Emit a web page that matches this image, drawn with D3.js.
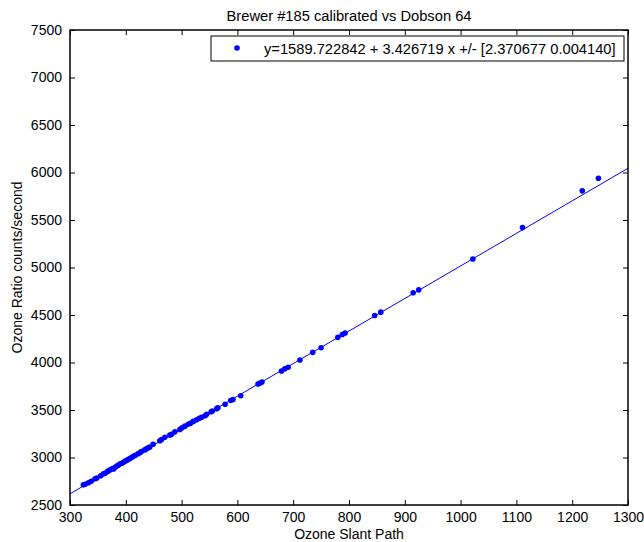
<!DOCTYPE html>
<html>
<head>
<meta charset="utf-8">
<script src="https://cdn.jsdelivr.net/npm/d3@7"></script>
<style>
  html, body { margin: 0; padding: 0; background: #fff; }
  svg text { font-family: "Liberation Sans", Arial, Helvetica, sans-serif; fill: #000; }
</style>
</head>
<body>
<svg id="chart" width="644" height="542"></svg>
<script>
// Dobson slant path vs Brewer #185 ozone ratio
const slantPath = [
  324, 327, 333, 338, 345, 348, 355, 360, 363, 367, 369, 372, 376, 378, 381, 384,
  387, 390, 393, 396, 399, 402, 405, 408, 411, 414, 417, 422, 425, 428, 434, 437,
  440, 443, 449, 461, 464, 470, 479, 482, 488, 497, 501, 506, 512, 516, 521, 527,
  532, 536, 542, 545, 553, 555, 563, 565, 578, 588, 592, 606, 637, 640, 644, 679,
  685, 691, 712, 735, 750, 780, 788, 793, 846, 857, 915, 925, 1022, 1111, 1218, 1247
];
const ozoneRatio = [
  2712, 2718, 2735, 2750, 2776, 2785, 2808, 2828, 2833, 2852, 2860, 2870, 2885, 2880, 2897, 2910,
  2920, 2934, 2940, 2950, 2962, 2970, 2982, 2992, 3003, 3012, 3024, 3040, 3050, 3063, 3080, 3091,
  3102, 3110, 3139, 3176, 3190, 3212, 3236, 3245, 3270, 3296, 3312, 3330, 3350, 3360, 3380, 3398,
  3413, 3423, 3440, 3455, 3482, 3490, 3514, 3524, 3560, 3600, 3611, 3650, 3773, 3782, 3795, 3910,
  3935, 3950, 4026, 4107, 4156, 4265, 4295, 4310, 4495, 4530, 4735, 4765, 5090, 5420, 5807, 5940
];

// Least-squares fit coefficients shown in the legend
const fitIntercept = 1589.722842;
const fitSlope = 3.426719;
const fitErr = [2.370677, 0.004140];

const xTicks = [300, 400, 500, 600, 700, 800, 900, 1000, 1100, 1200, 1300];
const yTicks = [2500, 3000, 3500, 4000, 4500, 5000, 5500, 6000, 6500, 7000, 7500];
const xDomain = [300, 1300];
const yDomain = [2500, 7500];

const titleText = "Brewer #185 calibrated vs Dobson 64";
const xLabelText = "Ozone Slant Path";
const yLabelText = "Ozone Ratio counts/second";

const margin = { left: 70, right: 16, top: 30, bottom: 37 };
const W = 644, H = 542;
const svg = d3.select("#chart");
const x = d3.scaleLinear().domain(xDomain).range([margin.left, W - margin.right]);
const y = d3.scaleLinear().domain(yDomain).range([H - margin.bottom, margin.top]);
const blue = "#0000ff";
const fontSize = 14;
const legendFontSize = 14.7;

// plot area background
svg.append("rect")
  .attr("x", x(xDomain[0])).attr("y", y(yDomain[1]))
  .attr("width", x(xDomain[1]) - x(xDomain[0]))
  .attr("height", y(yDomain[0]) - y(yDomain[1]))
  .attr("fill", "#fff");

// clip so the fit line stays inside the axes
svg.append("clipPath").attr("id", "plotClip").append("rect")
  .attr("x", x(xDomain[0])).attr("y", y(yDomain[1]))
  .attr("width", x(xDomain[1]) - x(xDomain[0]))
  .attr("height", y(yDomain[0]) - y(yDomain[1]));

const plot = svg.append("g").attr("clip-path", "url(#plotClip)");

// fitted line
const fit = v => fitIntercept + fitSlope * v;
plot.append("line")
  .attr("x1", x(xDomain[0])).attr("y1", y(fit(xDomain[0])))
  .attr("x2", x(xDomain[1])).attr("y2", y(fit(xDomain[1])))
  .attr("stroke", blue).attr("stroke-width", 1);

// observations
plot.selectAll("circle.obs")
  .data(slantPath.map((v, i) => [v, ozoneRatio[i]]))
  .join("circle")
  .attr("class", "obs")
  .attr("cx", d => x(d[0])).attr("cy", d => y(d[1]))
  .attr("r", 2.8).attr("fill", blue);

// axes with inward ticks on all four sides
const tickLen = 5;
const axBottom = d3.axisBottom(x).tickValues(xTicks).tickSizeInner(-tickLen).tickSizeOuter(0).tickPadding(7).tickFormat(d3.format("d"));
const axTop = d3.axisTop(x).tickValues(xTicks).tickSizeInner(-tickLen).tickSizeOuter(0).tickFormat("");
const axLeft = d3.axisLeft(y).tickValues(yTicks).tickSizeInner(-tickLen).tickSizeOuter(0).tickPadding(8).tickFormat(d3.format("d"));
const axRight = d3.axisRight(y).tickValues(yTicks).tickSizeInner(-tickLen).tickSizeOuter(0).tickFormat("");

function styleAxis(g) {
  g.select(".domain").remove();
  g.selectAll(".tick line").attr("stroke", "#000").attr("stroke-width", 1);
  g.selectAll(".tick text").attr("font-size", fontSize).attr("fill", "#000")
    .style("font-family", '"Liberation Sans", Arial, sans-serif');
}
svg.append("g").attr("transform", `translate(0,${y(yDomain[0])})`).call(axBottom).call(styleAxis);
svg.append("g").attr("transform", `translate(0,${y(yDomain[1])})`).call(axTop).call(styleAxis);
svg.append("g").attr("transform", `translate(${x(xDomain[0])},0)`).call(axLeft).call(styleAxis);
svg.append("g").attr("transform", `translate(${x(xDomain[1])},0)`).call(axRight).call(styleAxis);

// axes box
svg.append("rect")
  .attr("x", x(xDomain[0])).attr("y", y(yDomain[1]))
  .attr("width", x(xDomain[1]) - x(xDomain[0]))
  .attr("height", y(yDomain[0]) - y(yDomain[1]))
  .attr("fill", "none").attr("stroke", "#000").attr("stroke-width", 1.5);

// title and axis labels
const cx = (x(xDomain[0]) + x(xDomain[1])) / 2;
svg.append("text").attr("x", cx).attr("y", 21).attr("text-anchor", "middle")
  .attr("font-size", legendFontSize).text(titleText);
svg.append("text").attr("x", cx).attr("y", 539).attr("text-anchor", "middle")
  .attr("font-size", fontSize).text(xLabelText);
const cy = (y(yDomain[0]) + y(yDomain[1])) / 2;
svg.append("text").attr("transform", `translate(22,${cy}) rotate(-90)`).attr("text-anchor", "middle")
  .attr("font-size", fontSize).text(yLabelText);

// legend
const legendText = `y=${fitIntercept.toFixed(6)} + ${fitSlope.toFixed(6)} x +/- [${fitErr[0].toFixed(6)} ${fitErr[1].toFixed(6)}]`;
const lg = svg.append("g");
lg.append("rect").attr("x", 211).attr("y", 36).attr("width", 413).attr("height", 25)
  .attr("fill", "#fff").attr("stroke", "#000").attr("stroke-width", 1);
lg.append("circle").attr("cx", 237).attr("cy", 48).attr("r", 2.8).attr("fill", blue);
lg.append("text").attr("x", 264).attr("y", 54).attr("font-size", legendFontSize).text(legendText);
</script>
</body>
</html>
